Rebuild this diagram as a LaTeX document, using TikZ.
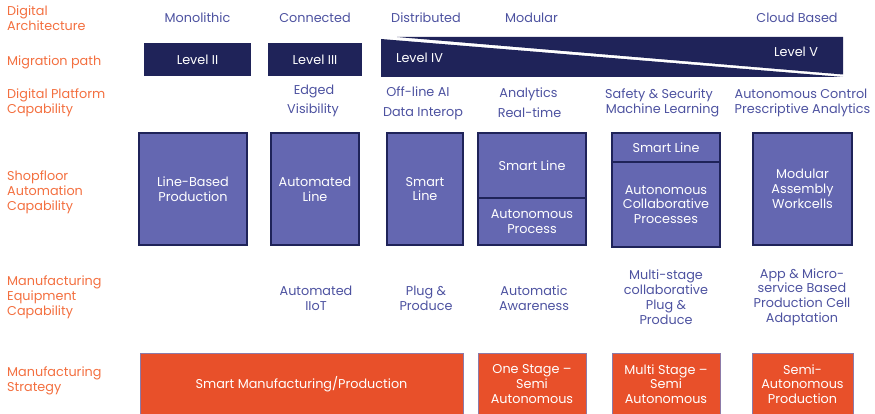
\documentclass[tikz,border=0pt]{standalone}
\usepackage{fontspec}
\setmainfont{Poppins}
\definecolor{navy}{HTML}{1F2359}
\definecolor{lav}{HTML}{6467B1}
\definecolor{orfill}{HTML}{E8502A}
\definecolor{ortext}{HTML}{F36F3F}
\definecolor{bltext}{HTML}{4D52A0}
\definecolor{orline}{HTML}{8C7AA8}
\tikzset{
  base font/.style={font=\fontsize{12.8}{14.8}\selectfont},
  rowlbl/.style={base font, text=ortext, align=left, anchor=west, inner sep=0pt},
  hdr/.style={base font, text=bltext, align=center, inner sep=0pt},
  lvlbox/.style={base font, fill=navy, text=white, inner sep=0pt, minimum height=33pt},
  capbox/.style={base font, fill=lav, draw=navy, line width=1.4pt, text=white, align=center, inner sep=0pt},
  stratbox/.style={base font, fill=orfill, draw=orline, line width=0.7pt, text=white, align=center, inner sep=0pt},
}
\begin{document}
\begin{tikzpicture}[x=1pt,y=-1pt]
\useasboundingbox (0,0) rectangle (875,414);
% row labels
\node[rowlbl] (lA) at (7,18) {Digital\\Architecture};
\node[rowlbl] (lB) at (7,62) {Migration path};
\node[rowlbl] (lC) at (7,103) {Digital Platform\\Capability};
\node[rowlbl] (lD) at (7,192) {Shopfloor\\Automation\\Capability};
\node[rowlbl] (lE) at (7,297) {Manufacturing\\Equipment\\Capability};
\node[rowlbl] (lF) at (7,381) {Manufacturing\\Strategy};
% architecture headers
\node[hdr, anchor=base] (h1) at (197.5,23) {Monolithic};
\node[hdr, anchor=base] (h2) at (315,23) {Connected};
\node[hdr, anchor=base] (h3) at (426,23) {Distributed};
\node[hdr, anchor=base] (h4) at (531.5,23) {Modular};
\node[hdr, anchor=base] (h5) at (797,23) {Cloud Based};
% migration path
\node[lvlbox, minimum width=107pt] (m2) at (197.5,59.5) {Level II};
\node[lvlbox, minimum width=94pt] (m3) at (315,59.5) {Level III};
\fill[navy] (381,39) -- (843,77) -- (381,77) -- cycle;
\fill[navy] (397,37) -- (843,37) -- (843,74.5) -- cycle;
\node[hdr, text=white, anchor=base] (m4) at (419.5,63) {Level IV};
\node[hdr, text=white, anchor=base] (m5) at (796,57) {Level V};
% digital platform capability
\node[hdr, anchor=base] (p1a) at (314,95) {Edged};
\node[hdr, anchor=base] (p1b) at (313,114) {Visibility};
\node[hdr, anchor=base] (p2a) at (418,97) {Off-line AI};
\node[hdr, anchor=base] (p2b) at (423,117) {Data Interop};
\node[hdr, anchor=base] (p3a) at (528.5,98) {Analytics};
\node[hdr, anchor=base] (p3b) at (529.5,118) {Real-time};
\node[hdr, anchor=base] (p4a) at (659,99) {Safety \& Security};
\node[hdr, anchor=base] (p4b) at (662.5,114) {Machine Learning};
\node[hdr, anchor=base] (p5a) at (801,99) {Autonomous Control};
\node[hdr, anchor=base] (p5b) at (802.5,114) {Prescriptive Analytics};
% shopfloor automation boxes
\node[capbox, minimum width=108pt, minimum height=112pt] (s1) at (193,189) {Line-Based\\Production};
\node[capbox, minimum width=88pt, minimum height=112pt] (s2) at (315,189) {Automated\\Line};
\node[capbox, minimum width=76pt, minimum height=112pt] (s3) at (425,189) {Smart\\Line};
\node[capbox, minimum width=108pt, minimum height=65pt] (s4a) at (532,165.5) {Smart Line};
\node[capbox, minimum width=108pt, minimum height=47pt] (s4b) at (532,221.5) {Autonomous\\Process};
\node[capbox, minimum width=108pt, minimum height=29pt] (s5a) at (666,147.5) {Smart Line};
\node[capbox, minimum width=108pt, minimum height=85pt] (s5b) at (666,204.5) {Autonomous\\Collaborative\\Processes};
\node[capbox, minimum width=99pt, minimum height=112pt] (s6) at (802.5,189) {Modular\\Assembly\\Workcells};
% equipment capability
\node[hdr] (e1) at (316,298) {Automated\\IIoT};
\node[hdr] (e2) at (426,298) {Plug \&\\Produce};
\node[hdr] (e3) at (534,298) {Automatic\\Awareness};
\node[hdr] (e4) at (666,297) {Multi-stage\\collaborative\\Plug \&\\Produce};
\node[hdr] (e5) at (802,297) {App \& Micro-\\service Based\\Production Cell\\Adaptation};
% strategy
\node[stratbox, minimum width=323pt, minimum height=62pt] (t1) at (301.5,384) {Smart Manufacturing/Production};
\node[stratbox, minimum width=108pt, minimum height=62pt] (t2) at (532,384) {One Stage –\\Semi\\Autonomous};
\node[stratbox, minimum width=108pt, minimum height=62pt] (t3) at (666,384) {Multi Stage –\\Semi\\Autonomous};
\node[stratbox, minimum width=101pt, minimum height=62pt] (t4) at (802.5,384) {Semi-\\Autonomous\\Production};
\end{tikzpicture}
\end{document}
